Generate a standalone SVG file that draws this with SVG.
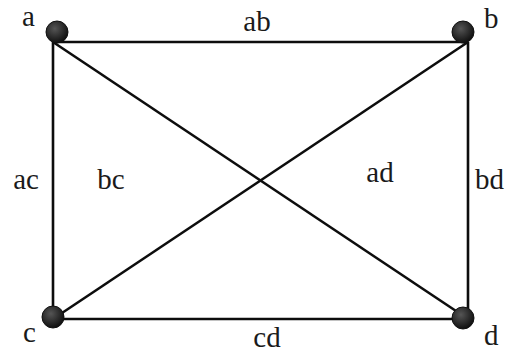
<svg xmlns="http://www.w3.org/2000/svg" width="507" height="354" viewBox="0 0 507 354">
<defs>
<radialGradient id="g" cx="0.4" cy="0.35" r="0.7">
<stop offset="0" stop-color="#555"/>
<stop offset="1" stop-color="#0a0a0a"/>
</radialGradient>
<style>
.e{stroke:#0d0d0d;stroke-width:2.6;fill:none}
.n{fill:url(#g);stroke:#111;stroke-width:1}
text{font-family:"Liberation Serif","Times New Roman",serif;font-size:29px;fill:#1a1a1a}
</style>
</defs>
<rect width="507" height="354" fill="#fff"/>
<g id="connectors">
<line class="e" x1="53" y1="42" x2="468" y2="42"/>
<line class="e" x1="53" y1="42" x2="53" y2="319"/>
<line class="e" x1="468" y1="42" x2="468" y2="319"/>
<line class="e" x1="53" y1="319" x2="468" y2="319"/>
<line class="e" x1="53" y1="42" x2="468" y2="319"/>
<line class="e" x1="468" y1="42" x2="53" y2="319"/>
</g>
<g id="edge-labels">
<text x="257" y="31" text-anchor="middle">ab</text>
<text x="26" y="189" text-anchor="middle">ac</text>
<text x="111" y="189" text-anchor="middle">bc</text>
<text x="380" y="182" text-anchor="middle">ad</text>
<text x="475" y="189">bd</text>
<text x="267" y="347" text-anchor="middle">cd</text>
</g>
<g id="node-a"><circle class="n" cx="57" cy="32" r="11"/><text x="22" y="26">a</text></g>
<g id="node-b"><circle class="n" cx="463" cy="32" r="11"/><text x="484" y="28">b</text></g>
<g id="node-c"><circle class="n" cx="53" cy="317" r="11"/><text x="23" y="342">c</text></g>
<g id="node-d"><circle class="n" cx="463" cy="318" r="11"/><text x="484" y="345">d</text></g>
</svg>
